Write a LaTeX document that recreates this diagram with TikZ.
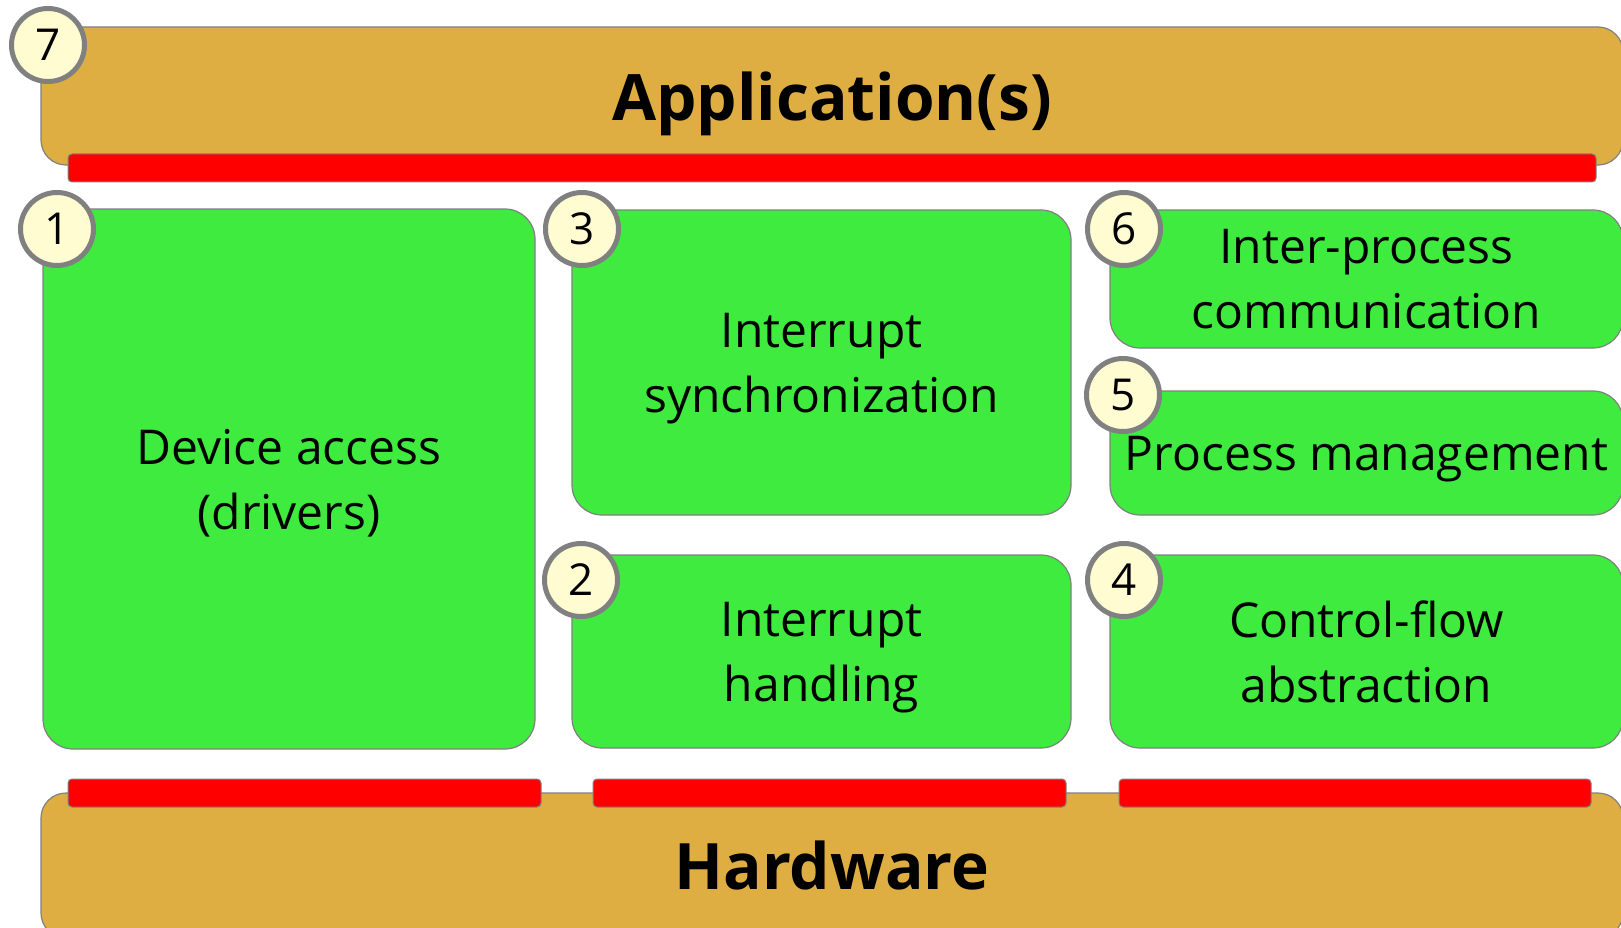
\documentclass[tikz,border=0pt]{standalone}
\usepackage{fontspec}
\setmainfont{Open Sans}
\usetikzlibrary{shapes.geometric}
\definecolor{layerorange}{HTML}{DFAE42}
\definecolor{taskgreen}{HTML}{3EEB3E}
\definecolor{badgefill}{HTML}{FFFCD2}
\tikzstyle{layer} = [rectangle, rounded corners=25pt, draw=gray, line width=1.2pt,
fill=layerorange, inner sep=0pt, text depth=0pt, font=\fontsize{64}{70}\selectfont\bfseries]
\tikzstyle{task} = [rectangle, rounded corners=30pt, draw=gray, line width=1.2pt,
fill=taskgreen, inner sep=0pt, text depth=0pt, text centered, align=center, font=\fontsize{48}{65}\selectfont]
\tikzstyle{bar} = [rectangle, rounded corners=4pt, draw=gray, line width=1pt,
fill=red, inner sep=0pt, minimum height=28pt]
\tikzstyle{badge} = [circle, draw=gray, line width=5pt, fill=badgefill,
minimum size=73pt, inner sep=0pt, font=\fontsize{44}{44}\selectfont]

\begin{document}
\begin{tikzpicture}[x=1pt, y=-1pt]
  \useasboundingbox (0,0) rectangle (1621,928);

  \node (app) [layer, minimum width=1582pt, minimum height=138pt] at (832,96) {Application(s)};
  \node (appbar) [bar, minimum width=1528pt] at (832,168) {};

  \node (dev) [task, minimum width=492pt, minimum height=540pt] at (289,479) {Device access \\ (drivers)};
  \node (isync) [task, minimum width=499pt, minimum height=305pt] at (821.5,362.5) {Interrupt \\ synchronization};
  \node (ihand) [task, minimum width=499pt, minimum height=193pt] at (821.5,651.5) {Interrupt \\ handling};
  \node (ipc) [task, minimum width=513pt, minimum height=138pt] at (1366.5,279) {Inter-process \\ communication};
  \node (proc) [task, minimum width=513pt, minimum height=124pt] at (1366.5,453) {Process management};
  \node (cflow) [task, minimum width=513pt, minimum height=193pt] at (1366.5,651.5) {Control-flow \\ abstraction};

  \node (hw) [layer, minimum width=1582pt, minimum height=145pt] at (832,865.5) {Hardware};
  \node (hwbar1) [bar, minimum width=473pt] at (304.5,793) {};
  \node (hwbar2) [bar, minimum width=473pt] at (829.5,793) {};
  \node (hwbar3) [bar, minimum width=472pt] at (1355,793) {};

  % numbered badges
  \node (b7) [badge] at (48,45) {7};
  \node (b1) [badge] at (57,229) {1};
  \node (b3) [badge] at (582,229) {3};
  \node (b6) [badge] at (1124,229) {6};
  \node (b5) [badge] at (1123,395) {5};
  \node (b2) [badge] at (581,580) {2};
  \node (b4) [badge] at (1124,580) {4};

\end{tikzpicture}
\end{document}
